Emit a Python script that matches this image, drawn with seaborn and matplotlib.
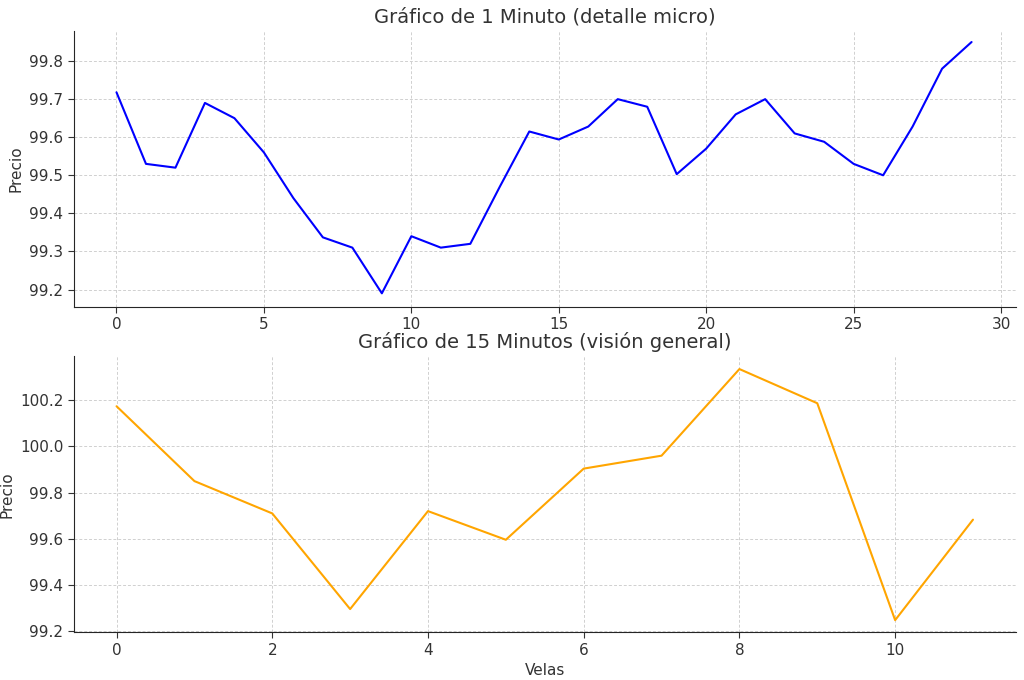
import seaborn as sns
import pandas as pd
import matplotlib.pyplot as plt

min1 = [99.718, 99.53, 99.52, 99.69, 99.65, 99.56, 99.44, 99.337, 99.31, 99.19,
        99.34, 99.31, 99.32, 99.47, 99.615, 99.594, 99.628, 99.70, 99.68, 99.503,
        99.57, 99.66, 99.70, 99.61, 99.588, 99.53, 99.50, 99.628, 99.78, 99.85]
min15 = [100.174, 99.85, 99.71, 99.296, 99.72, 99.596, 99.904, 99.96, 100.335,
         100.187, 99.248, 99.683]

df1 = pd.DataFrame({'vela': range(len(min1)), 'precio': min1})
df15 = pd.DataFrame({'vela': range(len(min15)), 'precio': min15})

sns.set_style('white')
fig, (ax1, ax2) = plt.subplots(2, 1, figsize=(10.24, 6.8), dpi=100)

sns.lineplot(data=df1, x='vela', y='precio', color='blue', ax=ax1, linewidth=1.5)
sns.lineplot(data=df15, x='vela', y='precio', color='orange', ax=ax2, linewidth=1.5)

ax1.set_title('Gráfico de 1 Minuto (detalle micro)', fontsize=14, color='#333333')
ax2.set_title('Gráfico de 15 Minutos (visión general)', fontsize=14, color='#333333')
ax1.set_xlabel('')
ax1.set_ylabel('Precio', color='#333333', fontsize=11)
ax2.set_xlabel('Velas', color='#333333', fontsize=11)
ax2.set_ylabel('Precio', color='#333333', fontsize=11)
ax1.set_xlim(-1.45, 30.5)
ax1.set_ylim(99.155, 99.88)
ax2.set_xlim(-0.55, 11.55)
ax2.set_ylim(99.195, 100.39)
ax1.set_xticks(range(0, 31, 5))
ax2.set_xticks(range(0, 12, 2))

for ax in (ax1, ax2):
    ax.grid(True, linestyle=(0, (3, 2)), color='#d0d0d0', linewidth=0.7)
    sns.despine(ax=ax)
    ax.tick_params(labelsize=11, colors='#333333', length=4, left=True, bottom=True)

plt.subplots_adjust(left=0.072, right=0.992, top=0.955, bottom=0.07, hspace=0.18)
plt.savefig('out.png')
